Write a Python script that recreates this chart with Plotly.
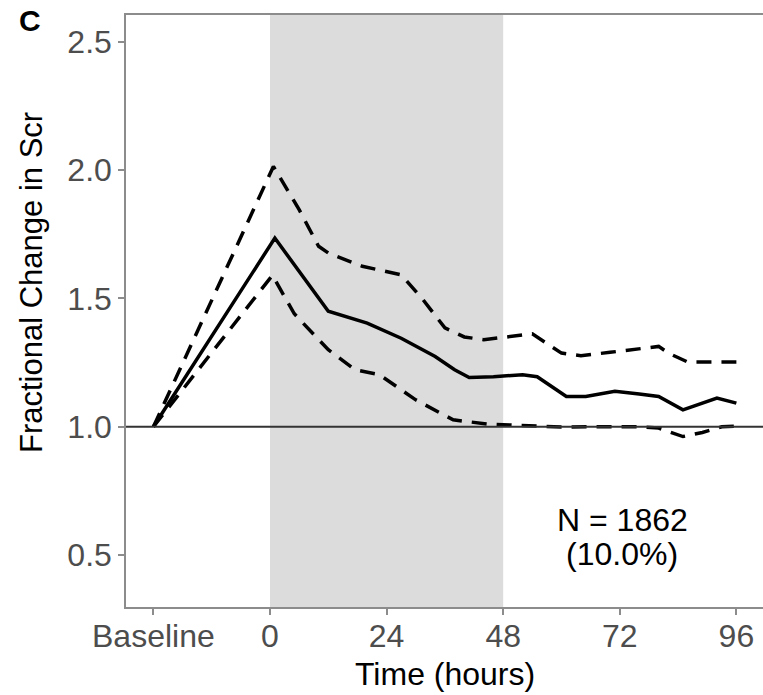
import plotly.graph_objects as go

# ---- data ----
tick_vals = [-24, 0, 24, 48, 72, 96]
tick_text = ["Baseline", "0", "24", "48", "72", "96"]

hours_mean = [-24, 1, 12, 20, 27, 34, 38, 41, 46, 52, 55, 61, 65, 71, 76, 80, 85, 92, 96]
mean_vals = [1.0, 1.735, 1.45, 1.404, 1.345, 1.274, 1.222, 1.192, 1.195, 1.203, 1.195,
             1.118, 1.118, 1.138, 1.128, 1.118, 1.066, 1.112, 1.092]

hours_upper = [-24, 0.7, 6, 10, 12, 19, 27, 31.5, 36, 40, 44, 50, 54, 60, 64, 70, 75, 80, 82, 86, 96]
upper_vals = [1.0, 2.014, 1.846, 1.703, 1.677, 1.625, 1.592, 1.495, 1.385, 1.35, 1.339,
              1.352, 1.362, 1.287, 1.277, 1.29, 1.300, 1.313, 1.287, 1.252, 1.252]

hours_lower = [-24, 0.5, 5, 12, 17.5, 22.5, 30, 37.7, 45, 52, 60, 68, 76, 80, 85, 89, 93, 96]
lower_vals = [1.0, 1.59, 1.44, 1.30, 1.222, 1.203, 1.105, 1.027, 1.01, 1.005, 0.999, 1.0,
              1.0, 0.995, 0.962, 0.978, 1.0, 1.003]

shade_start, shade_end = 0, 48
reference_level = 1.0
n_line1 = "N = 1862"
n_line2 = "(10.0%)"

FONT = "Liberation Sans, Arial, sans-serif"
TICK_SIZE = 32
TITLE_SIZE = 32

fig = go.Figure()
fig.add_trace(go.Scatter(x=hours_upper, y=upper_vals, mode="lines",
                         line=dict(color="black", width=3.5, dash="15px,10px"),
                         showlegend=False, hoverinfo="skip"))
fig.add_trace(go.Scatter(x=hours_lower, y=lower_vals, mode="lines",
                         line=dict(color="black", width=3.5, dash="15px,10px"),
                         showlegend=False, hoverinfo="skip"))
fig.add_trace(go.Scatter(x=hours_mean, y=mean_vals, mode="lines",
                         line=dict(color="black", width=3.5),
                         showlegend=False, hoverinfo="skip"))

fig.add_shape(type="rect", xref="x", yref="paper", x0=shade_start, x1=shade_end,
              y0=0, y1=1, fillcolor="#dcdcdc", line=dict(width=0), layer="below")
fig.add_shape(type="line", xref="paper", yref="y", x0=0, x1=1,
              y0=reference_level, y1=reference_level,
              line=dict(color="#333333", width=2), layer="above")

fig.update_layout(
    width=763, height=695,
    margin=dict(l=126, r=0, t=15, b=88),
    paper_bgcolor="white", plot_bgcolor="white",
    font=dict(family=FONT, color="#4d4d4d"),
    xaxis=dict(range=[-29.64, 101.48], tickvals=tick_vals, ticktext=tick_text,
               automargin=False, ticklabelstandoff=-6,
               showgrid=False, zeroline=False, showline=True, linecolor="#8c8c8c",
               linewidth=1.5, mirror=True, ticks="outside", ticklen=6,
               tickcolor="#8c8c8c", tickwidth=1.5,
               tickfont=dict(size=TICK_SIZE, color="#4d4d4d", family=FONT)),
    yaxis=dict(range=[0.298, 2.604], tickvals=[0.5, 1.0, 1.5, 2.0, 2.5],
               ticktext=["0.5", "1.0", "1.5", "2.0", "2.5"],
               automargin=False,
               showgrid=False, zeroline=False, showline=True, linecolor="#8c8c8c",
               linewidth=1.5, ticks="outside", ticklen=6,
               tickcolor="#8c8c8c", tickwidth=1.5,
               tickfont=dict(size=TICK_SIZE, color="#4d4d4d", family=FONT)),
)

# axis titles and labels, positioned in pixels from the plot edges
fig.add_annotation(text="Time (hours)", xref="paper", yref="paper", x=0.5, y=0,
                   yshift=-67, yanchor="middle", showarrow=False,
                   font=dict(size=TITLE_SIZE, color="black", family=FONT))
fig.add_annotation(text="Fractional Change in Scr", xref="paper", yref="paper",
                   x=0, y=0.5, xshift=-95, yshift=28, textangle=-90, showarrow=False,
                   xanchor="center", yanchor="middle",
                   font=dict(size=31, color="black", family=FONT))
fig.add_annotation(text="<b>C</b>", xref="paper", yref="paper", x=0, y=1,
                   xshift=-96, yshift=-5, xanchor="center", yanchor="middle",
                   showarrow=False, font=dict(size=30, color="black", family=FONT))
fig.add_annotation(text=n_line1, xref="x", yref="y", x=72.5, y=0.638,
                   showarrow=False, yanchor="middle",
                   font=dict(size=TITLE_SIZE, color="black", family=FONT))
fig.add_annotation(text=n_line2, xref="x", yref="y", x=72.5, y=0.503,
                   showarrow=False, yanchor="middle",
                   font=dict(size=TITLE_SIZE, color="black", family=FONT))

fig.write_html("out.html", config={"displayModeBar": False},
               post_script="document.body.style.margin='0';document.body.style.overflow='hidden';")
